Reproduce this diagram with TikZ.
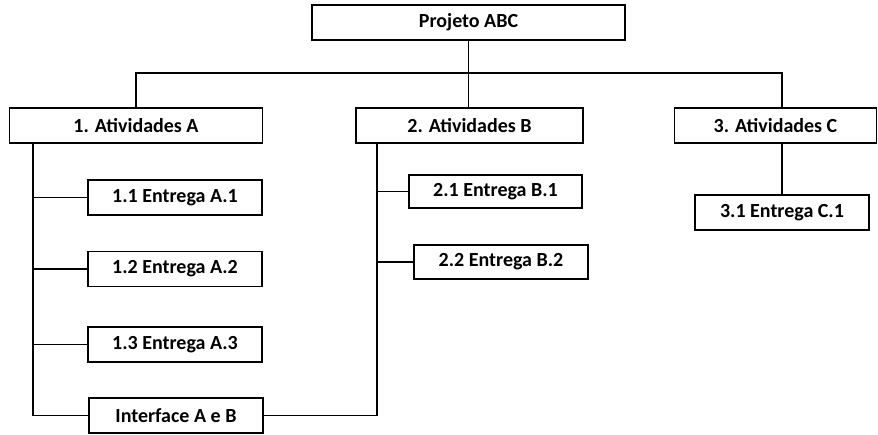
\documentclass[tikz,border=0pt]{standalone}
\usepackage{fontspec}
\setmainfont{Carlito}
\usetikzlibrary{positioning}
\tikzset{
  wbs/.style={
    draw, line width=1.8pt,
    minimum height=35pt, inner sep=0pt,
    font=\bfseries\fontsize{20}{24}\selectfont,
  },
  link/.style={
    line width=1.3pt,
  },
}

\begin{document}
\begin{tikzpicture}[x=1pt, y=-1pt]
\useasboundingbox (0,0) rectangle (878,434);

\node[wbs, minimum width=313pt] (proj) at (468.5, 22.5) {Projeto ABC};
\node[wbs, minimum width=253pt] (actA) at (136, 125.5) {1. Atividades A};
\node[wbs, minimum width=227pt] (actB) at (469.5, 125.5) {2. Atividades B};
\node[wbs, minimum width=202pt] (actC) at (775.5, 125.5) {3. Atividades C};

\foreach \i/\y in {1/197.5, 2/269, 3/344.5}
  \node[wbs, minimum width=174pt] (a\i) at (175, \y) {1.\i{} Entrega A.\i};
\node[wbs, minimum width=174pt] (ab) at (176, 415.5) {Interface A e B};

\node[wbs, minimum width=173pt, minimum height=33pt] (b1) at (495.5, 191.5) {2.1 Entrega B.1};
\node[wbs, minimum width=174pt, minimum height=34pt] (b2) at (501, 262) {2.2 Entrega B.2};
\node[wbs, minimum width=174pt] (c1) at (782, 212.5) {3.1 Entrega C.1};

% top level
\coordinate (bus) at (468.5, 73);
\draw[link] (proj.south) -- (proj.south |- actB.north);
\draw[link] (actA.north) |- (c1.north |- bus) -- (c1.north |- actC.north);
\draw[link] (c1.north) -- (c1.north |- actC.south);

% spines
\coordinate (sA) at ([xshift=-103pt]actA.south);
\coordinate (sB) at ([xshift=-92.5pt]actB.south);
\draw[link] (sA) |- (ab.west);
\draw[link] (sB) |- (ab.east);
\foreach \i in {1,...,3}
  \draw[link] (a\i.west) -- (a\i.west -| sA);
\foreach \i in {1,2}
  \draw[link] (b\i.west) -- (b\i.west -| sB);
\end{tikzpicture}
\end{document}
